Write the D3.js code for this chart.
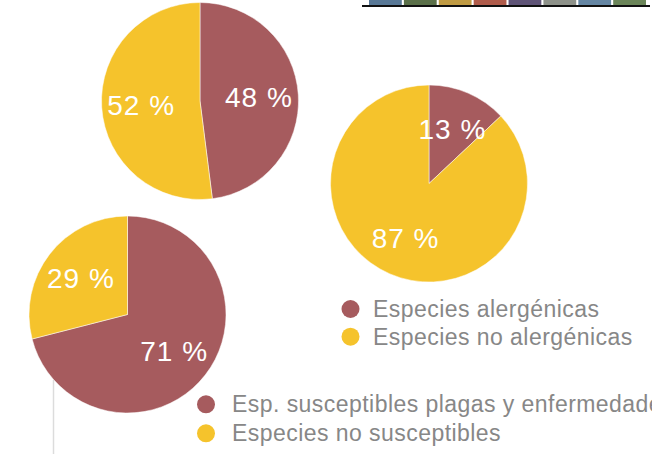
<!DOCTYPE html>
<html>
<head>
<meta charset="utf-8">
<script src="https://cdn.jsdelivr.net/npm/d3@7"></script>
<style>
  html, body { margin: 0; padding: 0; background: #fff; }
  svg { display: block; font-family: "Liberation Sans", Arial, Helvetica, sans-serif; }
</style>
</head>
<body>
<svg id="chart" width="652" height="454"></svg>
<script>
// data
var slices = ["si", "no"];
var valuesTop = [48, 52];
var valuesRight = [13, 87];
var valuesBottom = [71, 29];
var legendAllergy = ["Especies alergénicas", "Especies no alergénicas"];
var legendPests = ["Esp. susceptibles plagas y enfermedades", "Especies no susceptibles"];
var swatchColors = ["#587896", "#5b7049", "#c09b43", "#b05c4b", "#5f5477", "#8e928a", "#6586a3", "#6b8559"];

var colorSlice = d3.scaleOrdinal().domain(slices).range(["#a65b5e", "#f5c32c"]);

var svg = d3.select("#chart");

/**************** strip of colour swatches at the top ****************/
var xSwatch = d3.scaleBand().domain(d3.range(swatchColors.length))
    .range([369, 646]).paddingInner(0.06);

svg.append("g").selectAll("rect").data(swatchColors).enter().append("rect")
    .attr("x", function(d, i) { return xSwatch(i); })
    .attr("y", 0)
    .attr("width", xSwatch.bandwidth())
    .attr("height", 5)
    .attr("fill", function(d) { return d; });

svg.append("line")
    .attr("x1", 362).attr("x2", 650)
    .attr("y1", 6).attr("y2", 6)
    .attr("stroke", "#111").attr("stroke-width", 2);

// thin grey rule under the bottom pie
svg.append("line")
    .attr("x1", 53.5).attr("x2", 53.5)
    .attr("y1", 380).attr("y2", 454)
    .attr("stroke", "#dcdcdc").attr("stroke-width", 1.5);

/**************** pies ****************/
var radius = 98.5;
var pie = d3.pie().sort(null).value(function(d) { return d.value; });
var arc = d3.arc().innerRadius(0).outerRadius(radius);
var labelArc = d3.arc().innerRadius(59).outerRadius(59);

function drawPie(values, cx, cy) {
    var data = values.map(function(v, i) { return { key: slices[i], value: v }; });
    var g = svg.append("g").attr("transform", "translate(" + cx + "," + cy + ")");

    var arcs = pie(data);
    g.selectAll("path").data(arcs).enter().append("path")
        .attr("d", arc)
        .attr("fill", function(d) { return colorSlice(d.data.key); })
        .attr("stroke", "#fff")
        .attr("stroke-width", 0.5);

    g.selectAll("text").data(arcs).enter().append("text")
        .attr("transform", function(d) { return "translate(" + labelArc.centroid(d) + ")"; })
        .attr("text-anchor", "middle")
        .attr("dy", "0.36em")
        .attr("fill", "#fff")
        .attr("font-size", "28px")
        .attr("letter-spacing", "1px")
        .text(function(d) { return d.data.value + " %"; });
}

drawPie(valuesTop, 200, 101);
drawPie(valuesRight, 429, 183.5);
drawPie(valuesBottom, 127.5, 314.5);

/**************** legends ****************/
function legend(items, x, y, gap, step) {
    var g = svg.append("g").attr("transform", "translate(" + x + "," + y + ")");
    var row = g.selectAll("g").data(items).enter().append("g")
        .attr("transform", function(d, i) { return "translate(0," + (i * step) + ")"; });

    row.append("circle")
        .attr("r", 9)
        .attr("fill", function(d, i) { return colorSlice(slices[i]); });

    row.append("text")
        .attr("x", gap)
        .attr("dy", "0.35em")
        .attr("fill", "#878787")
        .attr("font-size", "23px")
        .attr("letter-spacing", "0.45px")
        .text(function(d) { return d; });
}

legend(legendAllergy, 350.5, 309, 22.5, 27.7);
legend(legendPests, 206, 404.3, 26, 29);
</script>
</body>
</html>
